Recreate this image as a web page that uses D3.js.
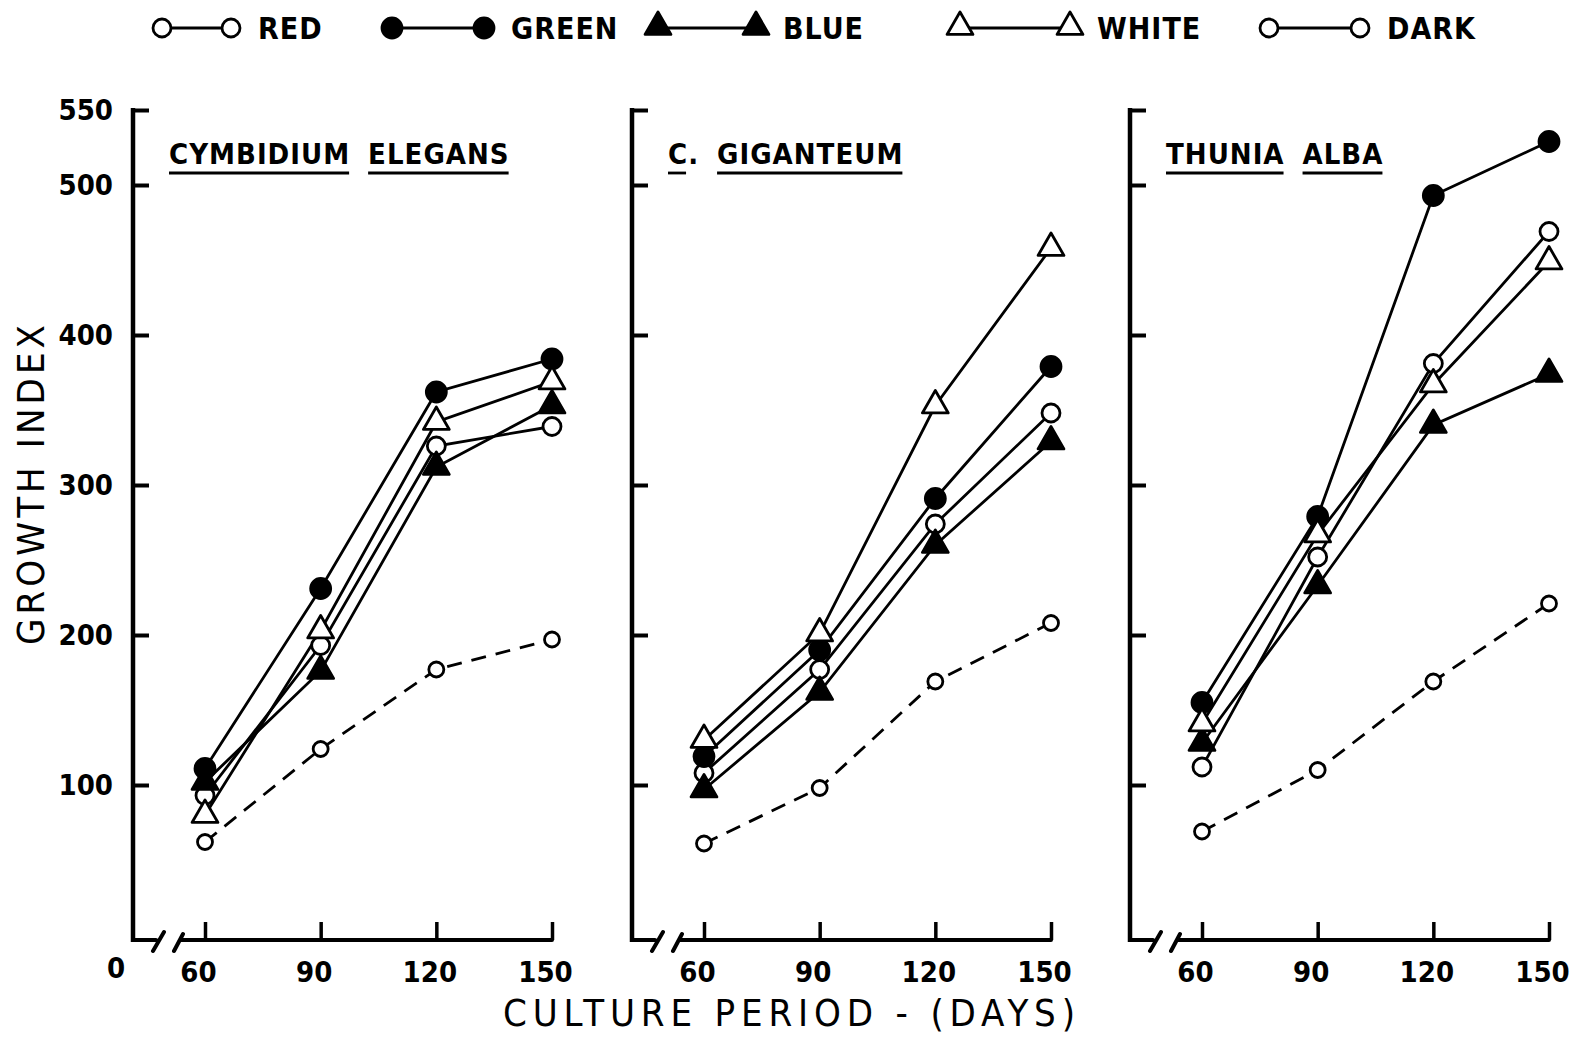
<!DOCTYPE html>
<html>
<head>
<meta charset="utf-8">
<script src="https://cdn.jsdelivr.net/npm/d3@7"></script>
<style>
  body { margin: 0; background: #fff; }
  svg { display: block; }
</style>
</head>
<body>
<script>
// culture period (days) and panels
var days = [60, 90, 120, 150]
  , panels = ["CYMBIDIUM ELEGANS", "C. GIGANTEUM", "THUNIA ALBA"]
  , yTicks = [100, 200, 300, 400, 500, 550];

// growth index, one row per panel, one value per day
var red   = [[93, 193, 326, 339], [108, 177, 274, 348], [112, 252, 381, 469]];
var green = [[111, 231, 362, 384], [119, 190, 291, 379], [155, 279, 493, 529]];
var blue  = [[102, 176, 312, 353], [97, 162, 260, 329], [128, 233, 340, 374]];
var white = [[80, 203, 342, 369], [130, 201, 353, 458], [141, 267, 367, 449]];
var dark  = [[62, 124, 177, 197], [61, 98, 169, 208], [69, 110, 169, 221]];

var series = [
  {name: "RED",   vals: red,   shape: "circle",   filled: false},
  {name: "GREEN", vals: green, shape: "circle",   filled: true},
  {name: "BLUE",  vals: blue,  shape: "triangle", filled: true},
  {name: "WHITE", vals: white, shape: "triangle", filled: false},
  {name: "DARK",  vals: dark,  shape: "circle",   filled: false, dashed: true}
];

var width = 1578
  , height = 1038
  , font = "'DejaVu Sans Condensed','Liberation Sans Narrow',sans-serif"
  , axisXs = [133, 632, 1130]  // left edge of each panel
  , baseY = 940
  , legendX = [162, 392, 658, 960, 1269]
  , legendLen = [69, 92, 98, 110, 91];

var svg = d3.select("body").append("svg")
  .attr("width", width)
  .attr("height", height);

var y = d3.scaleLinear().domain([0, 550]).range([935, 110]);

function marker(sel, s, cx, cy, small) {
  var fill = s.filled ? "#000" : "#fff";
  if (s.shape == "circle") {
    sel.append("circle")
      .attr("cx", cx).attr("cy", cy)
      .attr("r", small ? 7.5 : (s.filled ? 10 : 9))
      .attr("fill", fill)
      .attr("stroke", "#000")
      .attr("stroke-width", 2.8);
  } else {
    sel.append("path")
      .attr("d", d3.symbol(d3.symbolTriangle, 290)())
      .attr("transform", "translate(" + cx + "," + cy + ")")
      .attr("fill", fill)
      .attr("stroke", "#000")
      .attr("stroke-width", 2.8)
      .attr("stroke-linejoin", "round");
  }
}

panels.forEach(function(title, p) {
  var ax = axisXs[p];
  var x = d3.scaleLinear().domain([60, 150]).range([ax + 72, ax + 419]);
  var g = svg.append("g").attr("class", "panel");

  // y axis: inner ticks, labels only on the first panel
  var yAxis = d3.axisLeft(y)
    .tickValues(yTicks)
    .tickSizeInner(-16)
    .tickSizeOuter(0)
    .tickPadding(20)
    .tickFormat(p == 0 ? d3.format("d") : function() { return ""; });
  var ya = g.append("g").attr("transform", "translate(" + ax + ",0)").call(yAxis);
  ya.select(".domain").remove();
  ya.selectAll("line").attr("stroke", "#000").attr("stroke-width", 4);
  ya.selectAll("text")
    .attr("fill", "#000")
    .style("font-family", font)
    .style("font-size", "29px")
    .style("font-weight", "bold");

  g.append("path")
    .attr("d", "M" + ax + "," + (y(550) - 2) + "V" + (baseY + 2))
    .attr("stroke", "#000").attr("stroke-width", 4.5).attr("fill", "none");

  // x axis with a break near the origin
  var xAxis = d3.axisBottom(x)
    .tickValues(days)
    .tickSizeInner(-18)
    .tickSizeOuter(0)
    .tickPadding(21);
  var xa = g.append("g").attr("transform", "translate(0," + baseY + ")").call(xAxis);
  xa.select(".domain").remove();
  xa.selectAll("line").attr("stroke", "#000").attr("stroke-width", 3.5);
  xa.selectAll("text")
    .attr("fill", "#000")
    .attr("dx", -7)
    .style("font-family", font)
    .style("font-size", "29px")
    .style("font-weight", "bold");

  var brk = "M" + ax + "," + baseY + "H" + (ax + 23)
    + "M" + (ax + 20) + "," + (baseY + 11) + "L" + (ax + 31) + "," + (baseY - 8)
    + "M" + (ax + 41) + "," + (baseY + 11) + "L" + (ax + 50) + "," + (baseY - 6)
    + "M" + (ax + 47) + "," + baseY + "H" + x(150);
  g.append("path")
    .attr("d", brk)
    .attr("stroke", "#000").attr("stroke-width", 4).attr("fill", "none")
    .attr("stroke-linecap", "round");

  if (p == 0) {
    g.append("text")
      .attr("x", ax - 17).attr("y", 978)
      .attr("text-anchor", "middle")
      .style("font-family", font).style("font-size", "29px").style("font-weight", "bold")
      .text("0");
  }

  // panel title, each word underlined
  var tx = ax + 36;
  title.split(" ").forEach(function(word) {
    var t = g.append("text")
      .attr("x", tx).attr("y", 164)
      .style("font-family", font)
      .style("font-size", "29px")
      .style("font-weight", "bold")
      .style("letter-spacing", "1px")
      .text(word);
    var w = t.node().getComputedTextLength();
    var uw = word.slice(-1) == "." ? w - 13 : w - 1;
    g.append("line")
      .attr("x1", tx).attr("x2", tx + uw)
      .attr("y1", 173).attr("y2", 173)
      .attr("stroke", "#000").attr("stroke-width", 2.8);
    tx += w + 18;
  });

  // lines first, markers on top
  var line = d3.line()
    .x(function(d, i) { return x(days[i]); })
    .y(function(d) { return y(d); });

  series.forEach(function(s) {
    g.append("path")
      .attr("d", line(s.vals[p]))
      .attr("fill", "none")
      .attr("stroke", "#000")
      .attr("stroke-width", 2.8)
      .attr("stroke-dasharray", s.dashed ? "15,10" : null);
  });
  series.forEach(function(s) {
    s.vals[p].forEach(function(v, i) {
      marker(g, s, x(days[i]), y(v), s.dashed);
    });
  });
});

// legend
var lg = svg.append("g").attr("class", "legend");
series.forEach(function(s, i) {
  var x0 = legendX[i], x1 = x0 + legendLen[i], ly = 28;
  lg.append("line")
    .attr("x1", x0).attr("x2", x1)
    .attr("y1", ly).attr("y2", ly)
    .attr("stroke", "#000").attr("stroke-width", 2.8);
  marker(lg, s, x0, s.shape == "triangle" ? ly - 1 : ly, false);
  marker(lg, s, x1, s.shape == "triangle" ? ly - 1 : ly, false);
  lg.append("text")
    .attr("x", x1 + 27).attr("y", 39)
    .style("font-family", font)
    .style("font-size", "30px")
    .style("font-weight", "bold")
    .style("letter-spacing", "1px")
    .text(s.name);
});

// axis titles
svg.append("text")
  .attr("x", 503).attr("y", 1026)
  .attr("textLength", 572)
  .attr("lengthAdjust", "spacing")
  .style("font-family", font)
  .style("font-size", "38px")
  .text("CULTURE PERIOD - (DAYS)");

svg.append("text")
  .attr("transform", "translate(44,645) rotate(-90)")
  .attr("textLength", 320)
  .attr("lengthAdjust", "spacing")
  .style("font-family", font)
  .style("font-size", "38px")
  .text("GROWTH INDEX");
</script>
</body>
</html>
